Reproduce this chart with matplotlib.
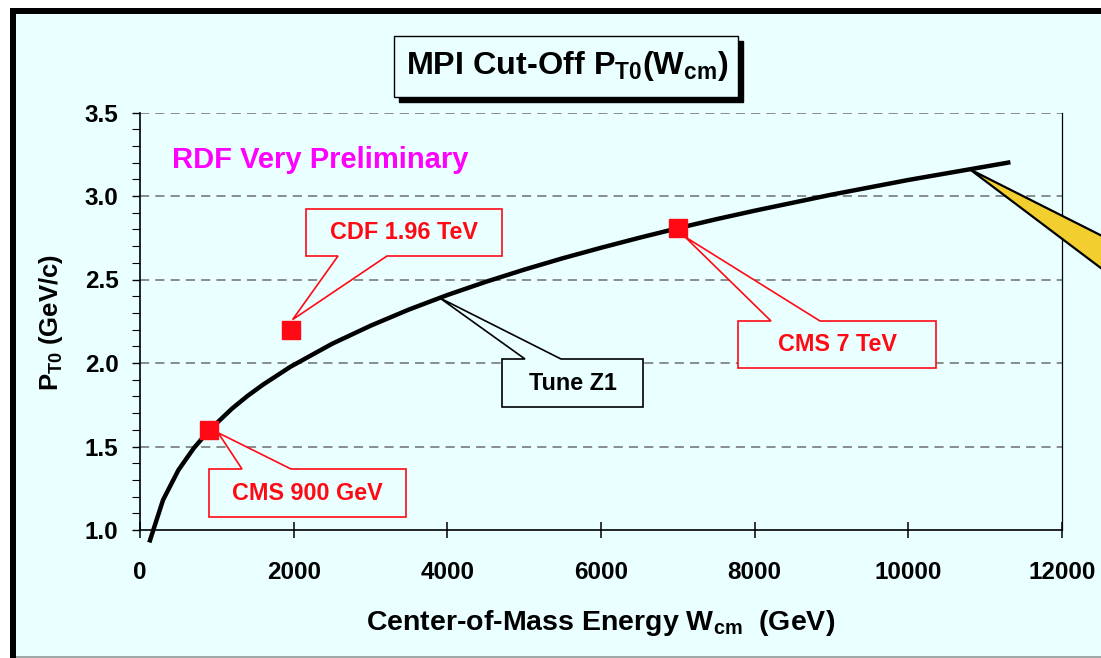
import matplotlib
matplotlib.use('Agg')
import matplotlib.pyplot as plt
from matplotlib.patches import Polygon, Rectangle
from matplotlib.transforms import IdentityTransform
from matplotlib.ticker import MultipleLocator, FixedLocator

# ---------------- data ----------------
tune_w = [130, 300, 500, 700, 900, 1200, 1400, 1600, 1960, 2500, 3000, 3500,
          4000, 4500, 5000, 5500, 6000, 6500, 7000, 7500, 8000, 9000, 10000,
          11300]
tune_pt0 = [0.938, 1.180, 1.359, 1.490, 1.597, 1.728, 1.803, 1.870, 1.978,
            2.115, 2.223, 2.320, 2.407, 2.486, 2.559, 2.627, 2.690, 2.750,
            2.807, 2.861, 2.912, 3.008, 3.096, 3.200]

meas_labels = ['CMS 900 GeV', 'CDF 1.96 TeV', 'CMS 7 TeV']
meas_w = [900, 1960, 7000]
meas_pt0 = [1.60, 2.20, 2.81]

x_ticks = [0, 2000, 4000, 6000, 8000, 10000, 12000]
y_ticks = [1.0, 1.5, 2.0, 2.5, 3.0, 3.5]
y_tick_labels = ['1.0', '1.5', '2.0', '2.5', '3.0', '3.5']

title_text = r'MPI Cut-Off P$_{\rm T0}$(W$_{\rm cm}$)'
xlabel_text = r'Center-of-Mass Energy W$_{\rm cm}$  (GeV)'
ylabel_text = r'P$_{\rm T0}$ (GeV/c)'
watermark_text = 'RDF Very Preliminary'
tune_label = 'Tune Z1'

# ---------------- style ----------------
plt.rcParams['font.family'] = ['Liberation Sans', 'DejaVu Sans']
plt.rcParams['font.weight'] = 'bold'
plt.rcParams['mathtext.fontset'] = 'custom'
plt.rcParams['mathtext.rm'] = 'Liberation Sans:bold'
plt.rcParams['mathtext.bf'] = 'Liberation Sans:bold'
plt.rcParams['mathtext.it'] = 'Liberation Sans:bold'

W, H = 1101, 658
BG = '#EAFFFF'
RED = '#FF0A14'

fig = plt.figure(figsize=(W / 100, H / 100), dpi=100)
fig.patch.set_facecolor(BG)

# axes placement (pixels: left 140, right 1062, top 112.5, bottom 530)
ax = fig.add_axes([140 / W, (H - 530) / H, 922 / W, 417.5 / H])
ax.set_facecolor(BG)
ax.set_xlim(0, 12000)
ax.set_ylim(1.0, 3.5)

ax.xaxis.set_major_locator(FixedLocator(x_ticks))
ax.set_xticklabels([str(t) for t in x_ticks])
ax.yaxis.set_major_locator(FixedLocator(y_ticks))
ax.set_yticklabels(y_tick_labels)
ax.yaxis.set_minor_locator(MultipleLocator(0.1))

ax.tick_params(axis='x', direction='inout', length=11, width=1.1, pad=16.5,
               labelsize=17.5, colors='black')
ax.tick_params(axis='y', which='major', direction='out', length=5.5, width=1.0,
               pad=10, labelsize=17.5)
ax.tick_params(axis='y', which='minor', direction='out', length=5.5, width=0.8)
for lab in ax.get_xticklabels() + ax.get_yticklabels():
    lab.set_fontweight('bold')

for s in ['left', 'bottom']:
    ax.spines[s].set_linewidth(1.2)
ax.spines['right'].set_linewidth(0.9)
ax.spines['top'].set_visible(False)

for yv in y_ticks[1:]:
    ax.axhline(yv, color='#6E6E6E', lw=1.1, ls=(0, (6, 4)), zorder=1)

# curve and measurements
ax.plot(tune_w, tune_pt0, color='black', lw=3.2, solid_joinstyle='round',
        zorder=4, clip_on=False)
ax.plot(meas_w, meas_pt0, ls='none', marker='s', ms=13.5, color=RED,
        mec=RED, zorder=7, clip_on=False)

# axis labels
ax.set_xlabel(xlabel_text, fontsize=20.5, fontweight='bold')
ax.xaxis.set_label_coords(0.5, -0.222)
ax.xaxis.label.set_va('center')
ax.set_ylabel(ylabel_text, fontsize=18.5, fontweight='bold')
ax.yaxis.set_label_coords(-0.097, 0.498)
ax.yaxis.label.set_va('center')

# watermark
ax.text(172, H - 160, watermark_text, transform=IdentityTransform(),
        color='#FF00FF', fontsize=21, fontweight='bold', ha='left', va='center')

ID = IdentityTransform()


def disp_of(w, p, dx=0.0, dy=0.0):
    x, y = ax.transData.transform((w, p))
    return (x + dx, y - dy)


def callout(box, base, edge, tip, text, color, fs=16.8):
    x0, y0, x1, y1 = box
    b0, b1 = base
    if edge == 'bottom':
        pts = [(x0, y0), (x1, y0), (x1, y1), (b1, y1), None, (b0, y1), (x0, y1)]
    else:
        pts = [(x0, y0), (b0, y0), None, (b1, y0), (x1, y0), (x1, y1), (x0, y1)]
    verts = [tip if p is None else (p[0], H - p[1]) for p in pts]
    poly = Polygon(verts, closed=True, fc=BG, ec=color, lw=1.2,
                   transform=ID, zorder=6, clip_on=False, joinstyle='miter')
    ax.add_artist(poly)
    ax.text((x0 + x1) / 2, H - (y0 + y1) / 2, text, transform=ID,
            color=color, fontsize=fs, fontweight='bold', ha='center',
            va='center', zorder=8, clip_on=False)


# callouts (boxes in pixel layout, tips anchored to data)
callout((209, 469, 406, 517), (242, 291), 'top',
        disp_of(meas_w[0], meas_pt0[0], 9, 3), meas_labels[0], RED)
callout((306, 209, 502, 256), (338, 387), 'bottom',
        disp_of(meas_w[1], meas_pt0[1], 2, -10), meas_labels[1], RED)
callout((738, 321, 936, 368), (771, 820), 'top',
        disp_of(meas_w[2], meas_pt0[2], 7, 9), meas_labels[2], RED)
callout((502, 359, 643, 407), (525, 561), 'top',
        disp_of(3900, 2.39), tune_label, 'black')

# yellow pointer from the right
tipx, tipy = disp_of(10800, 3.16)
yellow = Polygon([(tipx, tipy), (1130, H - 250), (1130, H - 290)], closed=True,
                 fc='#F2CE2E', ec='black', lw=1.6, transform=ID, zorder=6,
                 clip_on=False)
ax.add_artist(yellow)

# title box with shadow
fig.add_artist(Rectangle((399, H - 102), 344, 61, transform=ID, fc='black',
                         ec='black', zorder=10))
fig.add_artist(Rectangle((394, H - 97), 344, 61, transform=ID, fc=BG,
                         ec='black', lw=1.0, zorder=11))
fig.text(567 / W, 1 - 66 / H, title_text, fontsize=23.3, fontweight='bold',
         ha='center', va='center', zorder=12)

# slide frame
fig.add_artist(Rectangle((0, H - 8), W, 8, transform=ID, fc='white', ec='none', zorder=20))
fig.add_artist(Rectangle((0, 0), 10, H, transform=ID, fc='white', ec='none', zorder=20))
fig.add_artist(Rectangle((10, H - 14), W - 10, 6, transform=ID, fc='black', ec='none', zorder=21))
fig.add_artist(Rectangle((10, 0), 6, H - 8, transform=ID, fc='black', ec='none', zorder=21))
fig.add_artist(Rectangle((16, 0), W - 16, 2, transform=ID, fc='#A0A8A8', ec='none', zorder=21))

fig.savefig('out.png', dpi=100, facecolor=BG)
